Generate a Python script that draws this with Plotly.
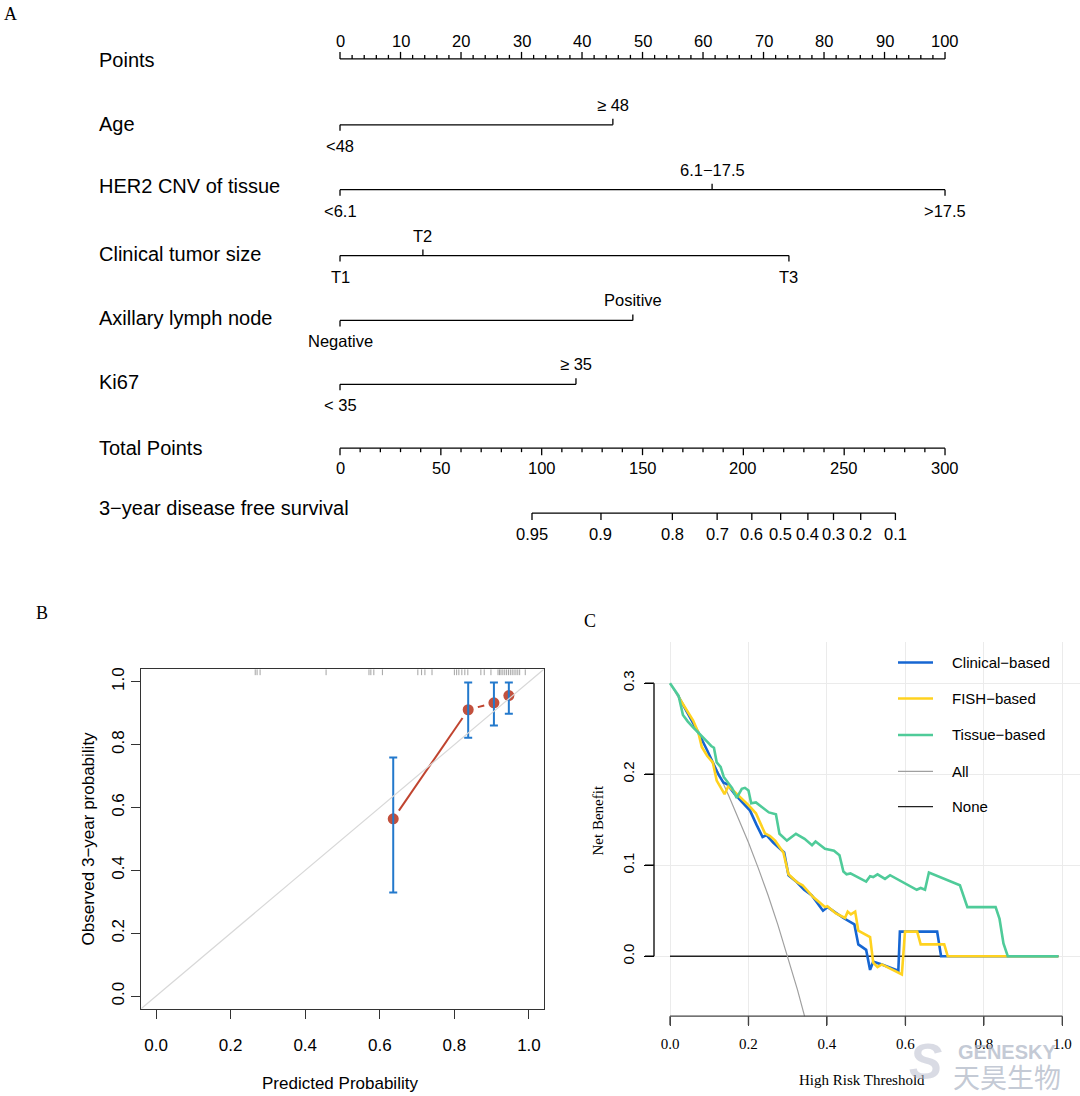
import math
import plotly.graph_objects as go

W, H = 1080, 1096
SANS = "Liberation Sans, Arial, sans-serif"
SERIF = "Liberation Serif, Times New Roman, serif"

# ---------------- Panel A : nomogram data ----------------
row_names = ["Points", "Age", "HER2 CNV of tissue", "Clinical tumor size",
             "Axillary lymph node", "Ki67", "Total Points",
             "3\u2212year disease free survival"]
point_ticks = list(range(0, 101, 10))
point_minor = [v for v in range(0, 101, 2) if v % 10]
age_lab = ["<48", "\u2265 48"]
age_pts = [0, 45.1]
her2_lab = ["<6.1", "6.1\u221217.5", ">17.5"]
her2_pts = [0, 61.5, 100]
size_lab = ["T1", "T2", "T3"]
size_pts = [0, 13.7, 74.2]
node_lab = ["Negative", "Positive"]
node_pts = [0, 48.4]
ki67_lab = ["< 35", "\u2265 35"]
ki67_pts = [0, 39.0]
total_ticks = list(range(0, 301, 50))
total_minor = [v for v in range(0, 301, 10) if v % 50]
dfs_lab = ["0.95", "0.9", "0.8", "0.7", "0.6", "0.5", "0.4", "0.3", "0.2", "0.1"]
dfs_total = [95.2, 129.4, 164.8, 187.0, 204.2, 218.5, 232.0, 244.7, 258.2, 275.4]

# ---------------- Panel B : calibration data ----------------
cal_pred = [0.636, 0.837, 0.906, 0.946]
cal_obs = [0.564, 0.911, 0.933, 0.956]
cal_upper = [0.759, 0.998, 0.998, 0.998]
cal_lower = [0.330, 0.822, 0.861, 0.898]
rug_pred = [0.266, 0.271, 0.279, 0.456, 0.571, 0.576, 0.584, 0.607,
            0.702, 0.712, 0.721, 0.740, 0.800, 0.806, 0.812, 0.820, 0.828, 0.836,
            0.871, 0.880, 0.898, 0.917, 0.921, 0.925, 0.930, 0.935, 0.940, 0.945,
            0.950, 0.955, 0.960, 0.965, 0.970, 0.975, 0.990]

# ---------------- Panel C : decision curve data ----------------
thr_clin = [0.023, 0.072, 0.095, 0.110, 0.123, 0.136, 0.146, 0.165, 0.185, 0.204,
            0.221, 0.236, 0.246, 0.263, 0.291, 0.302, 0.323, 0.342, 0.361, 0.390,
            0.402, 0.442, 0.470, 0.480, 0.500, 0.510, 0.518, 0.540, 0.582, 0.586,
            0.681, 0.691, 0.990]
nb_clin = [0.284, 0.246, 0.226, 0.211, 0.200, 0.191, 0.189, 0.178, 0.169, 0.160,
           0.144, 0.131, 0.133, 0.125, 0.114, 0.089, 0.0815, 0.073, 0.067, 0.050,
           0.054, 0.042, 0.035, 0.013, 0.007, -0.015, -0.006, -0.009, -0.016, 0.027,
           0.027, 0.000, 0.000]
thr_fish = [0.023, 0.059, 0.072, 0.081, 0.095, 0.109, 0.119, 0.139, 0.149, 0.172,
            0.200, 0.219, 0.242, 0.255, 0.268, 0.289, 0.302, 0.323, 0.338, 0.365,
            0.395, 0.401, 0.423, 0.446, 0.453, 0.461, 0.472, 0.480, 0.510, 0.518,
            0.529, 0.540, 0.591, 0.599, 0.630, 0.639, 0.699, 0.708, 0.990]
nb_fish = [0.284, 0.259, 0.246, 0.230, 0.220, 0.213, 0.193, 0.178, 0.187, 0.178,
           0.166, 0.157, 0.135, 0.132, 0.127, 0.114, 0.090, 0.0815, 0.078, 0.065,
           0.054, 0.055, 0.047, 0.042, 0.049, 0.046, 0.049, 0.028, 0.021, -0.007,
           -0.012, -0.009, -0.020, 0.027, 0.027, 0.013, 0.013, 0.000, 0.000]
thr_tis = [0.000, 0.022, 0.033, 0.045, 0.060, 0.077, 0.094, 0.105, 0.112, 0.119,
           0.129, 0.137, 0.148, 0.158, 0.170, 0.176, 0.183, 0.191, 0.200, 0.207,
           0.219, 0.234, 0.252, 0.270, 0.279, 0.298, 0.321, 0.343, 0.362, 0.371,
           0.395, 0.418, 0.432, 0.442, 0.450, 0.460, 0.500, 0.510, 0.518, 0.529,
           0.548, 0.561, 0.629, 0.639, 0.650, 0.660, 0.739, 0.758, 0.830, 0.840,
           0.850, 0.861, 0.990]
nb_tis = [0.300, 0.286, 0.265, 0.258, 0.251, 0.244, 0.236, 0.231, 0.229, 0.213,
          0.208, 0.197, 0.191, 0.185, 0.174, 0.178, 0.184, 0.185, 0.182, 0.168,
          0.169, 0.164, 0.158, 0.156, 0.1345, 0.127, 0.1345, 0.129, 0.122, 0.126,
          0.118, 0.116, 0.111, 0.093, 0.090, 0.091, 0.082, 0.088, 0.087, 0.090,
          0.085, 0.089, 0.073, 0.075, 0.073, 0.092, 0.078, 0.054, 0.054, 0.041,
          0.014, 0.000, 0.000]
thr_all = [0.0, 0.025, 0.05, 0.075, 0.10, 0.125, 0.15, 0.175, 0.20, 0.225, 0.25,
           0.275, 0.30, 0.325, 0.35]
nb_all = [0.300, 0.282, 0.263, 0.243, 0.222, 0.200, 0.176, 0.1515, 0.125, 0.0968,
          0.067, 0.0345, 0.000, -0.037, -0.077]
thr_none = [0.0, 0.99]
nb_none = [0.0, 0.0]
dca_names = ["Clinical\u2212based", "FISH\u2212based", "Tissue\u2212based", "All", "None"]
dca_colors = ["#1666D2", "#FFD21F", "#4FCB99", "#A0A0A0", "#222222"]
dca_widths = [2.6, 2.6, 2.6, 1.2, 1.4]

fig = go.Figure()


def px(p):
    return p / W


def py(p):
    return 1 - p / H


annotations = []


def txt(x, y, s, size, xref="x", yref="y", xanchor="center", yanchor="middle",
        font=SANS, color="black", angle=0):
    annotations.append(dict(x=x, y=y, xref=xref, yref=yref, text=s, showarrow=False,
                            xanchor=xanchor, yanchor=yanchor, textangle=angle,
                            font=dict(family=font, size=size, color=color)))


# ---------------- Panel A drawing ----------------
ROW_Y = [57, 123, 188, 254, 319, 383, 447, 512]
LAB_Y = [58, 122, 184, 252, 317, 381, 447, 507]
LAB_X = -40.2
MAJ, MIN = 7, 4
TS = 16.5
lx, ly = [], []


def hline(x0, x1, y):
    lx.extend([x0, x1, None])
    ly.extend([y, y, None])


def tick(x, y, length):
    lx.extend([x, x, None])
    ly.extend([y, y + length, None])


for name, yl in zip(row_names, LAB_Y):
    txt(LAB_X, yl, name, 20, xanchor="left")

# Points axis
y0 = ROW_Y[0]
hline(point_ticks[0], point_ticks[-1], y0)
for v in point_ticks:
    tick(v, y0, -MAJ)
    txt(v, y0 - 18, str(v), TS)
for v in point_minor:
    tick(v, y0, -MIN)

# categorical rows
cats = [(age_lab, age_pts), (her2_lab, her2_pts), (size_lab, size_pts),
        (node_lab, node_pts), (ki67_lab, ki67_pts)]
for (labs, pts), yr in zip(cats, ROW_Y[1:6]):
    hline(0, max(pts), yr)
    for i, (lab, p) in enumerate(zip(labs, pts)):
        if i % 2 == 0:
            tick(p, yr, MAJ - 1)
            txt(p, yr + 21, lab, TS)
        else:
            tick(p, yr, -(MAJ - 1))
            txt(p, yr - 20, lab, TS)

# Total points
scale = 100 / 300
yt = ROW_Y[6]
hline(total_ticks[0] * scale, total_ticks[-1] * scale, yt)
for v in total_ticks:
    tick(v * scale, yt, MAJ)
    txt(v * scale, yt + 20, str(v), TS)
for v in total_minor:
    tick(v * scale, yt, MIN)

# DFS
yd = ROW_Y[7]
hline(dfs_total[0] * scale, dfs_total[-1] * scale, yd)
for lab, v in zip(dfs_lab, dfs_total):
    tick(v * scale, yd, MAJ)
    txt(v * scale, yd + 21, lab, TS)

fig.add_trace(go.Scatter(x=lx, y=ly, mode="lines", line=dict(color="black", width=1.3),
                         xaxis="x", yaxis="y", hoverinfo="skip", showlegend=False))

# ---------------- Panel B drawing ----------------
XS = 402.8 / 1.08
YS = 340.2 / 1.08
GAP = 10
rx, ry = [], []
for v in rug_pred:
    rx.extend([v, v, None])
    ry.extend([1.04, 1.04 - 6 / YS, None])
fig.add_trace(go.Scatter(x=rx, y=ry, mode="lines", line=dict(color="#8C8C8C", width=0.8),
                         xaxis="x2", yaxis="y2", hoverinfo="skip", showlegend=False))

sx, sy = [], []
for i in range(len(cal_pred) - 1):
    x0, y0_, x1, y1 = cal_pred[i], cal_obs[i], cal_pred[i + 1], cal_obs[i + 1]
    dxp, dyp = (x1 - x0) * XS, (y1 - y0_) * YS
    d = math.hypot(dxp, dyp)
    if d > 2 * GAP:
        ux, uy = dxp / d, dyp / d
        sx.extend([x0 + GAP * ux / XS, x1 - GAP * ux / XS, None])
        sy.extend([y0_ + GAP * uy / YS, y1 - GAP * uy / YS, None])
fig.add_trace(go.Scatter(x=sx, y=sy, mode="lines", line=dict(color="#C0442F", width=2),
                         xaxis="x2", yaxis="y2", hoverinfo="skip", showlegend=False))
fig.add_trace(go.Scatter(x=cal_pred, y=cal_obs, mode="markers",
                         marker=dict(color="#C2503D", size=11, line=dict(width=0)),
                         xaxis="x2", yaxis="y2", hoverinfo="skip", showlegend=False))
ex, ey = [], []
CAP = 4 / XS
for p, lo, up in zip(cal_pred, cal_lower, cal_upper):
    ex.extend([p, p, None, p - CAP, p + CAP, None, p - CAP, p + CAP, None])
    ey.extend([lo, up, None, lo, lo, None, up, up, None])
fig.add_trace(go.Scatter(x=ex, y=ey, mode="lines", line=dict(color="#2379CC", width=2),
                         xaxis="x2", yaxis="y2", hoverinfo="skip", showlegend=False))
fig.add_trace(go.Scatter(x=[-0.04, 1.04], y=[-0.04, 1.04], mode="lines",
                         line=dict(color="#D8D8D8", width=1.2),
                         xaxis="x2", yaxis="y2", hoverinfo="skip", showlegend=False))

# ---------------- Panel C drawing ----------------
series = [(thr_none, nb_none, 4), (thr_all, nb_all, 3), (thr_clin, nb_clin, 0),
          (thr_fish, nb_fish, 1), (thr_tis, nb_tis, 2)]
for xs, ys, k in series:
    fig.add_trace(go.Scatter(x=xs, y=ys, mode="lines",
                             line=dict(color=dca_colors[k], width=dca_widths[k]),
                             name=dca_names[k], xaxis="x3", yaxis="y3",
                             hoverinfo="skip", showlegend=False))

shapes = []
# R-style axis lines and ticks for panel C
c_xticks = [0, 0.2, 0.4, 0.6, 0.8, 1.0]
c_yticks = [0, 0.1, 0.2, 0.3]
C_W = W - 654          # plot-area width in px
C_H = 1016 - 641       # plot-area height in px
TL = 9
shapes.append(dict(type="line", xref="x3 domain", yref="y3", x0=0, x1=0,
                   y0=c_yticks[0], y1=c_yticks[-1], line=dict(color="black", width=1.3)))
shapes.append(dict(type="line", xref="x3", yref="y3 domain", x0=c_xticks[0], x1=c_xticks[-1],
                   y0=0, y1=0, line=dict(color="#444444", width=1.4)))
for v in c_xticks:
    shapes.append(dict(type="line", xref="x3", yref="y3 domain", x0=v, x1=v,
                       y0=0, y1=-TL / C_H, line=dict(color="#444444", width=1.4)))
for v in c_yticks:
    shapes.append(dict(type="line", xref="x3 domain", yref="y3", x0=0, x1=-TL / C_W,
                       y0=v, y1=v, line=dict(color="black", width=1.3)))

# manual legend
LEG_Y = [661.7, 697.7, 734.3, 770.7, 806]
for k, yy in enumerate(LEG_Y):
    shapes.append(dict(type="line", xref="paper", yref="paper", x0=px(898), x1=px(933),
                       y0=py(yy), y1=py(yy),
                       line=dict(color=dca_colors[k], width=dca_widths[k] if k < 3 else 1.2)))
    txt(px(950), py(yy), dca_names[k], 15, xref="paper", yref="paper", xanchor="left")

# axis titles / panel letters
txt(px(88), py(838), "Observed 3\u2212year probability", 17, xref="paper", yref="paper", angle=-90)
txt(px(340), py(1083), "Predicted Probability", 17, xref="paper", yref="paper")
txt(px(598), py(820), "Net Benefit", 15, xref="paper", yref="paper", font=SERIF, angle=-90)
txt(px(862), py(1080), "High Risk Threshold", 15, xref="paper", yref="paper", font=SERIF)
txt(px(10.5), py(12), "A", 18, xref="paper", yref="paper", font=SERIF)
txt(px(42), py(612), "B", 18, xref="paper", yref="paper", font=SERIF)
txt(px(590), py(620), "C", 18, xref="paper", yref="paper", font=SERIF)

# watermark
wm = "rgba(170,178,195,0.7)"
txt(px(925), py(1062), "<b><i>S</i></b>", 50, xref="paper", yref="paper", color="rgba(185,190,205,0.55)")
txt(px(1007), py(1052), "<b>GENESKY</b>", 20, xref="paper", yref="paper", color=wm)
txt(px(1007), py(1076), "天昊生物", 27, xref="paper", yref="paper",
    font="Noto Sans CJK SC", color=wm)

axB = dict(showline=True, mirror=True, linecolor="#333333", linewidth=1.2,
           ticks="outside", ticklen=9, tickcolor="#333333", tickwidth=1.2, showgrid=False,
           zeroline=False, range=[-0.04, 1.04], tickvals=[0, 0.2, 0.4, 0.6, 0.8, 1.0],
           tickformat=".1f", tickfont=dict(family=SANS, size=17, color="black"))

fig.update_layout(
    width=W, height=H, margin=dict(l=0, r=0, t=0, b=0),
    paper_bgcolor="white", plot_bgcolor="white", showlegend=False,
    xaxis=dict(domain=[0, 1], range=[-56.20, 122.31], visible=False),
    yaxis=dict(domain=[py(580), 1], range=[580, 0], visible=False),
    xaxis2=dict(domain=[px(141.1), px(543.9)], anchor="y2", ticklabelstandoff=12, **axB),
    yaxis2=dict(domain=[py(1008.6), py(668.4)], anchor="x2", tickangle=-90,
                ticklabelstandoff=0, **axB),
    xaxis3=dict(domain=[px(654), 1], anchor="y3", range=[-0.0408, 1.0451],
                tickvals=c_xticks, tickformat=".1f", ticks="outside", ticklen=TL,
                tickcolor="#444444", tickwidth=1.4, showline=False, zeroline=False,
                showgrid=True, gridcolor="#EBEBEB", gridwidth=1, ticklabelstandoff=5,
                tickfont=dict(family=SERIF, size=15, color="black")),
    yaxis3=dict(domain=[py(1016), py(641)], anchor="x3", range=[-0.0658, 0.3454],
                tickvals=c_yticks, tickformat=".1f", ticks="outside", ticklen=TL,
                tickcolor="black", tickwidth=1.3, showline=False, zeroline=False,
                showgrid=True, gridcolor="#EBEBEB", gridwidth=1, tickangle=-90,
                ticklabelstandoff=4, tickfont=dict(family=SANS, size=15, color="black")),
    annotations=annotations, shapes=shapes,
)

fig.write_html("out.html", config={"displayModeBar": False},
               post_script="document.body.style.margin='0px';")
